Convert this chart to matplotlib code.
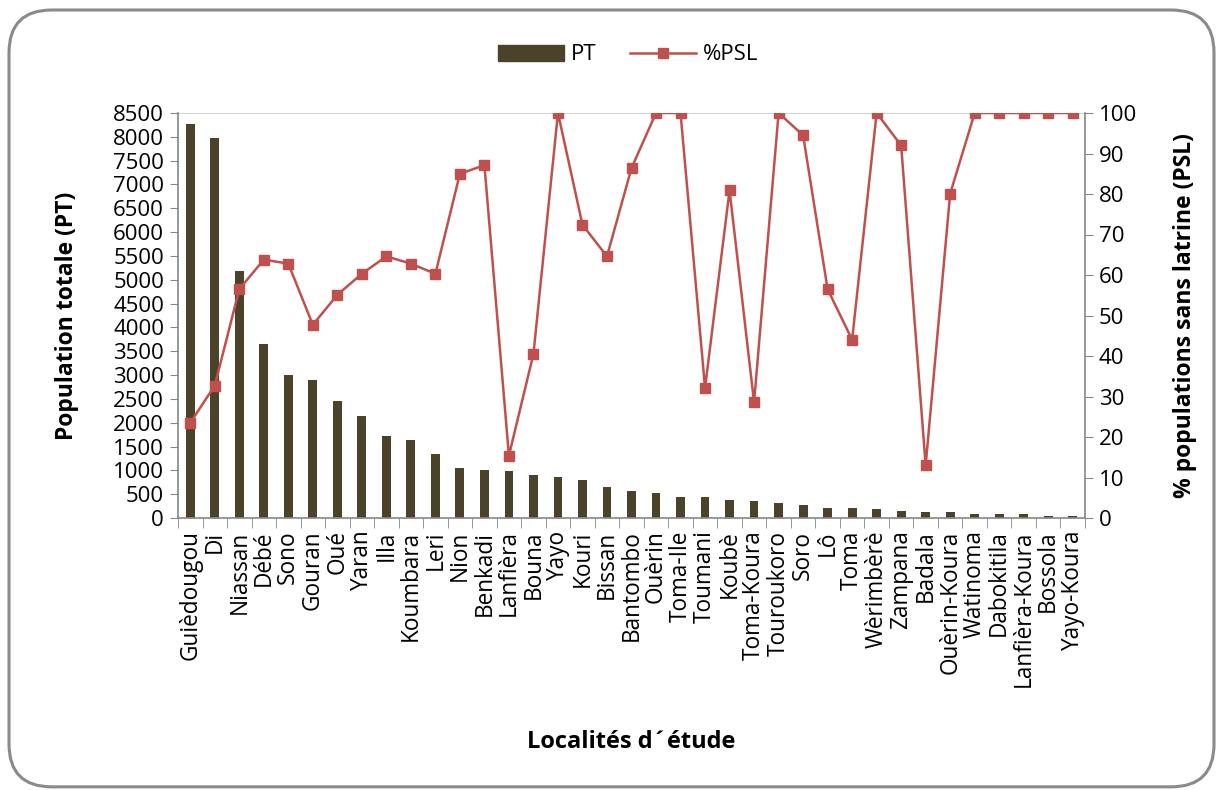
import matplotlib
matplotlib.use("Agg")
import matplotlib.pyplot as plt
import numpy as np
from matplotlib.patches import FancyBboxPatch
from matplotlib.lines import Line2D
from matplotlib.patches import Patch

plt.rcParams['font.family'] = ['Open Sans', 'DejaVu Sans']

# localités (ordre du graphique)
localites = ['Guièdougou', 'Di', 'Niassan', 'Débé', 'Sono', 'Gouran', 'Oué', 'Yaran', 'Illa',
             'Koumbara', 'Leri', 'Nion', 'Benkadi', 'Lanfièra', 'Bouna', 'Yayo', 'Kouri',
             'Bissan', 'Bantombo', 'Ouèrin', 'Toma-Ile', 'Toumani', 'Koubè', 'Toma-Koura',
             'Touroukoro', 'Soro', 'Lô', 'Toma', 'Wèrimbèrè', 'Zampana', 'Badala',
             'Ouèrin-Koura', 'Watinoma', 'Dabokitila', 'Lanfièra-Koura', 'Bossola', 'Yayo-Koura']

# population totale (PT)
pt = [8270, 7970, 5185, 3650, 2995, 2905, 2460, 2140, 1715, 1630, 1335, 1040, 1005,
      980, 895, 860, 805, 650, 560, 530, 440, 440, 383, 350, 320, 265, 210, 210, 180,
      146, 118, 118, 91, 91, 91, 35, 35]

# % populations sans latrine (PSL)
psl = [23.5, 32.7, 56.5, 63.8, 62.8, 47.7, 55.1, 60.3, 64.6, 62.8, 60.3, 85.0, 87.1,
       15.4, 40.5, 100, 72.4, 64.6, 86.4, 100, 100, 32.1, 80.9, 28.6, 100, 94.5, 56.5,
       44.0, 100, 92.0, 13.0, 80.1, 100, 100, 100, 100, 100]

bar_col = '#4b4329'
line_col = '#c0504d'
axis_col = '#868686'
fs_tick = 16
fs_cat = 16.3
fs_lab = 16.5

fig = plt.figure(figsize=(12.23, 7.9), dpi=100)
# cadre arrondi
cadre = FancyBboxPatch((9/1223, 0.004), 1205/1223, 1 - 10/790 - 0.004,
                       boxstyle="round,pad=0,rounding_size=0.035",
                       transform=fig.transFigure, fill=False, ec='#8a8a8a', lw=2.2,
                       mutation_aspect=1223/790)
fig.patches.append(cadre)

ax = fig.add_axes([178/1223, 1 - 518/790, (1085 - 178)/1223, (518 - 113)/790])
x = np.arange(len(localites))
ax.bar(x, pt, width=0.36, color=bar_col, zorder=2)
ax.set_xlim(-0.5, len(localites) - 0.5)
ax.set_ylim(0, 8500)
ax.set_yticks(np.arange(0, 8501, 500))
ax.axhline(8500, color='#d4d4d4', lw=1.5, zorder=1)

ax.set_xticks(x)
ax.set_xticklabels(localites, rotation=90, fontsize=fs_cat)
ax.set_xticks(np.arange(-0.5, len(localites), 1), minor=True)
ax.tick_params(axis='x', which='major', length=0, pad=9)
ax.tick_params(axis='x', which='minor', length=7, color=axis_col, direction='out')
ax.tick_params(axis='y', length=6, color=axis_col, labelsize=fs_tick, pad=4)

for s in ['top', 'right']:
    ax.spines[s].set_visible(False)
ax.spines['left'].set_color(axis_col)
ax.spines['bottom'].set_color(axis_col)
ax.spines['left'].set_linewidth(1.2)
ax.spines['bottom'].set_linewidth(1.2)

ax.set_ylabel('Population totale (PT)', fontsize=fs_lab, fontweight='bold')
ax.yaxis.label.set_verticalalignment('center')
ax.yaxis.set_label_coords((67 - 178)/907, 0.5)
ax.set_xlabel('Localités d´étude', fontsize=fs_lab + 0.5, fontweight='bold')
ax.xaxis.label.set_verticalalignment('center')
ax.xaxis.set_label_coords(0.5, (518 - 742)/405)

ax2 = ax.twinx()
ax2.plot(x, psl, color=line_col, lw=1.8, marker='s', markersize=7.5, zorder=3)
ax2.set_ylim(0, 100)
ax2.set_yticks(np.arange(0, 101, 10))
ax2.tick_params(axis='y', length=6, color=axis_col, labelsize=fs_tick, pad=4)
for s in ['top', 'left', 'bottom']:
    ax2.spines[s].set_visible(False)
ax2.spines['right'].set_color(axis_col)
ax2.spines['right'].set_linewidth(1.2)
ax2.set_ylabel('% populations sans latrine (PSL)', fontsize=fs_lab, fontweight='bold')
ax2.yaxis.label.set_verticalalignment('center')
ax2.yaxis.set_label_coords((1185 - 178)/907, 0.5)

handles = [Patch(color=bar_col, label='PT'),
           Line2D([0], [0], color=line_col, lw=1.8, marker='s', markersize=7.5, label='%PSL')]
fig.legend(handles=handles, loc='center', bbox_to_anchor=(628/1223, 1 - 55/790), ncol=2,
           frameon=False, fontsize=fs_tick, handlelength=3, columnspacing=1.5, handletextpad=0.3)

fig.savefig('out.png', dpi=100)
